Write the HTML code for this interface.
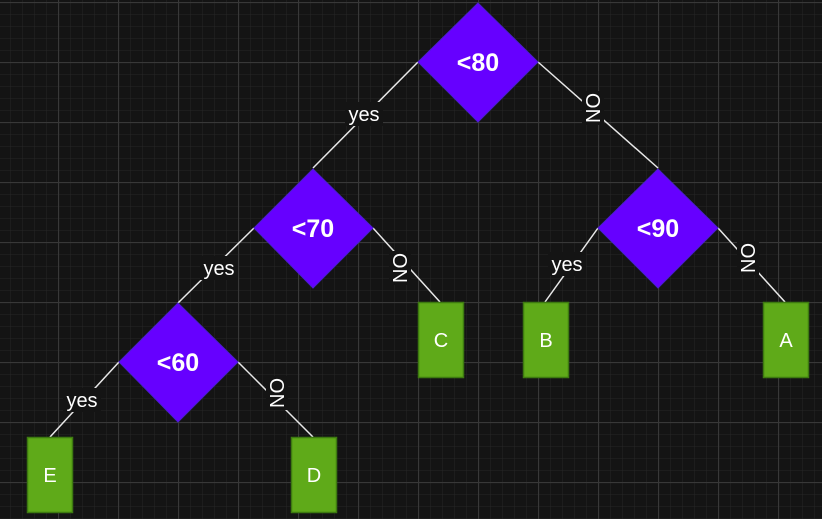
<!DOCTYPE html>
<html><head><meta charset="utf-8"><style>
html,body{margin:0;padding:0;background:#141414;}
svg{display:block;}
text{font-family:"Liberation Sans",Arial,sans-serif;fill:#fff;}
</style></head><body>
<svg width="822" height="519" viewBox="0 0 822 519" xmlns="http://www.w3.org/2000/svg">
<defs>
<pattern id="minor" width="12" height="12" patternUnits="userSpaceOnUse" x="10" y="2">
<path d="M0 0H12M0 0V12" stroke="#262626" stroke-width="1" fill="none"/>
</pattern>
<pattern id="major" width="60" height="60" patternUnits="userSpaceOnUse" x="58" y="2">
<path d="M0 0.5H60M0.5 0V60" stroke="#383838" stroke-width="1.2" fill="none"/>
</pattern>
</defs>
<rect width="822" height="519" fill="#141414"/>
<rect width="822" height="519" fill="url(#minor)"/>
<rect width="822" height="519" fill="url(#major)"/>

<g stroke="#e8e8e8" stroke-width="1.5">
<line x1="418" y1="62" x2="313" y2="168"/>
<line x1="538" y1="62" x2="658" y2="168"/>
<line x1="254" y1="228" x2="178" y2="303"/>
<line x1="373" y1="228" x2="440" y2="302"/>
<line x1="598" y1="228" x2="545" y2="302"/>
<line x1="718" y1="228" x2="785" y2="302"/>
<line x1="119" y1="362" x2="50" y2="437"/>
<line x1="238" y1="362" x2="313" y2="437"/>
</g>

<g fill="#6600ff" stroke="#4a1fd0" stroke-width="1">
<polygon points="478,3 538,62 478,122 418,62"/>
<polygon points="313,169 373,228 313,288 254,228"/>
<polygon points="658,169 718,228 658,288 598,228"/>
<polygon points="178,303 238,362 178,422 119,362"/>
</g>
<g font-size="25" font-weight="bold" text-anchor="middle">
<text x="478" y="71">&lt;80</text>
<text x="313" y="237">&lt;70</text>
<text x="658" y="237">&lt;90</text>
<text x="178" y="371">&lt;60</text>
</g>

<g fill="#5faa19" stroke="#3d7a10" stroke-width="1.5">
<rect x="27.5" y="437.5" width="45" height="75"/>
<rect x="291.5" y="437.5" width="45" height="75"/>
<rect x="418.5" y="302.5" width="45" height="75"/>
<rect x="523.5" y="302.5" width="45" height="75"/>
<rect x="763.5" y="302.5" width="45" height="75"/>
</g>
<g font-size="20" text-anchor="middle">
<text x="50" y="482">E</text>
<text x="314" y="482">D</text>
<text x="441" y="347">C</text>
<text x="546" y="347">B</text>
<text x="786" y="347">A</text>
</g>

<g fill="#141414">
<rect x="345" y="102" width="38" height="24"/>
<rect x="200" y="256" width="38" height="24"/>
<rect x="548" y="252" width="38" height="24"/>
<rect x="63" y="388" width="38" height="24"/>
<rect x="582" y="91" width="22" height="34"/>
<rect x="389" y="251" width="22" height="34"/>
<rect x="737" y="241" width="22" height="34"/>
<rect x="266" y="376" width="22" height="34"/>
</g>
<g font-size="20" text-anchor="middle">
<text x="364" y="121">yes</text>
<text x="219" y="275">yes</text>
<text x="567" y="271">yes</text>
<text x="82" y="407">yes</text>
<text transform="translate(600,108) rotate(-90)">NO</text>
<text transform="translate(407,268) rotate(-90)">NO</text>
<text transform="translate(755,258) rotate(-90)">NO</text>
<text transform="translate(284,393) rotate(-90)">NO</text>
</g>
</svg>
</body></html>
